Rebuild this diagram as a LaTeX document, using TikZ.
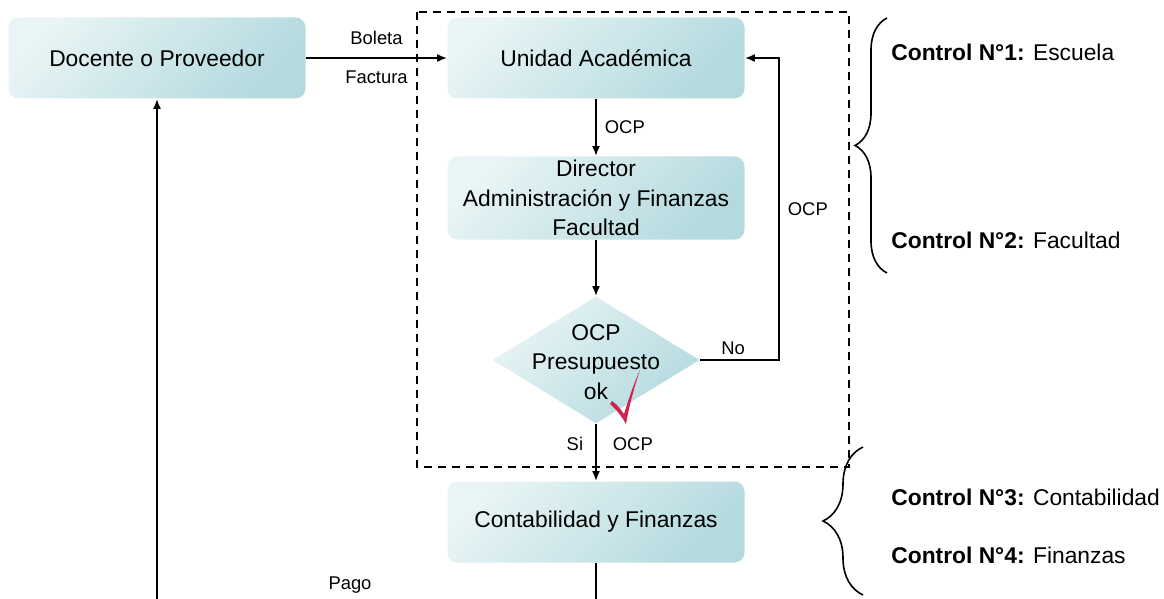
\documentclass[tikz,border=0pt]{standalone}
\usepackage{fontspec}
\setmainfont{Liberation Sans}
\usetikzlibrary{arrows.meta, calc, positioning, shapes.geometric, decorations.pathreplacing}
\definecolor{boxlight}{HTML}{E8F4F5}
\definecolor{boxdark}{HTML}{B4DADF}
\definecolor{checkred}{HTML}{D2224E}

\begin{document}
\begin{tikzpicture}[
    x=0.5pt, y=-0.5pt,
    >={Latex[length=5pt,width=4pt]},
    font=\fontsize{11.4pt}{14.6pt}\selectfont,
    procbox/.style={rounded corners=5pt, inner sep=2pt, align=center,
                    minimum width=148.5pt, minimum height=40.5pt,
                    shading=axis, top color=boxlight, bottom color=boxdark,
                    shading angle=45},
    decision/.style={diamond, inner sep=0pt,
                     minimum width=103.5pt, minimum height=63.5pt,
                     shading=axis, top color=boxlight, bottom color=boxdark,
                     shading angle=45},
    flow/.style={->, line width=0.9pt},
    flowlabel/.style={font=\fontsize{9.2pt}{10pt}\selectfont, inner sep=1pt},
    ctrllabel/.style={anchor=west, inner sep=0pt},
    ctrlbrace/.style={decorate, line width=0.8pt},
]
\useasboundingbox (0,0) rectangle (1164,599);

% ---------------- Boxes of the flow -------------------------------------
\node[procbox] (docente) at (157,58)  {Docente o Proveedor};
\node[procbox] (unidad)  at (596,58)  {Unidad Académica};
\node[procbox] (director) at (596,198)
    {Director\\Administración y Finanzas\\Facultad};
\node[decision] (presup) at (596,360) {};
\node[align=center] (presuptext) at (596,362) {OCP\\Presupuesto\\ok};
\node[procbox] (contab) at (596,522) {Contabilidad y Finanzas};

% Dashed frame around the controls of school and faculty
\draw[dashed, dash pattern=on 4pt off 3pt, line width=0.8pt]
    (417,12) rectangle (849,467);

% Red tick on the decision
\fill[checkred] (612,401) .. controls (618,405) and (621,410) .. (624,414)
    .. controls (629,398) and (634,383) .. (640,370)
    .. controls (635,385) and (630,402) .. (626,424)
    .. controls (622,417) and (617,410) .. (610,404) -- cycle;

% ---------------- Connectors --------------------------------------------
\draw[flow] (docente) -- (unidad)
    node[flowlabel, midway, above=5pt]{Boleta}
    node[flowlabel, midway, below=5pt]{Factura};

\draw[flow] (unidad) -- (director)
    node[flowlabel, midway, right=3pt]{OCP};

\draw[flow] (director) -- (presup);

\coordinate (noturn) at (779,360);
\draw[flow] (presup.east) -- (noturn)
    node[flowlabel, pos=0.42, above=1pt]{No}
    |- (unidad.east)
    node[flowlabel, pos=0.25, right=3pt]{OCP};

\draw[flow] (presup.south) -- (contab.north)
    node[flowlabel, pos=0.35, left=5pt]{Si}
    node[flowlabel, pos=0.35, right=7pt]{OCP};

% Payment loop back to the supplier (runs below the page edge)
\coordinate (pagoturn) at (596,640);
\draw[flow] (contab.south) -- (pagoturn) -| (docente.south);
\node[flowlabel] (pago) at (350,585) {Pago};

% ---------------- Controls ----------------------------------------------
\draw[ctrlbrace, decoration={brace, amplitude=16pt}]
    (887,273) -- (887,18);
\node[ctrllabel] (ctrl1) at (891,52) {\textbf{Control N°1:} Escuela};
\node[ctrllabel] (ctrl2) at (891,240) {\textbf{Control N°2:} Facultad};

\draw[ctrlbrace, decoration={brace, amplitude=20pt}]
    (863,595) -- (863,447);
\node[ctrllabel] (ctrl3) at (891,497) {\textbf{Control N°3:} Contabilidad};
\node[ctrllabel] (ctrl4) at (891,555) {\textbf{Control N°4:} Finanzas};

\end{tikzpicture}
\end{document}
